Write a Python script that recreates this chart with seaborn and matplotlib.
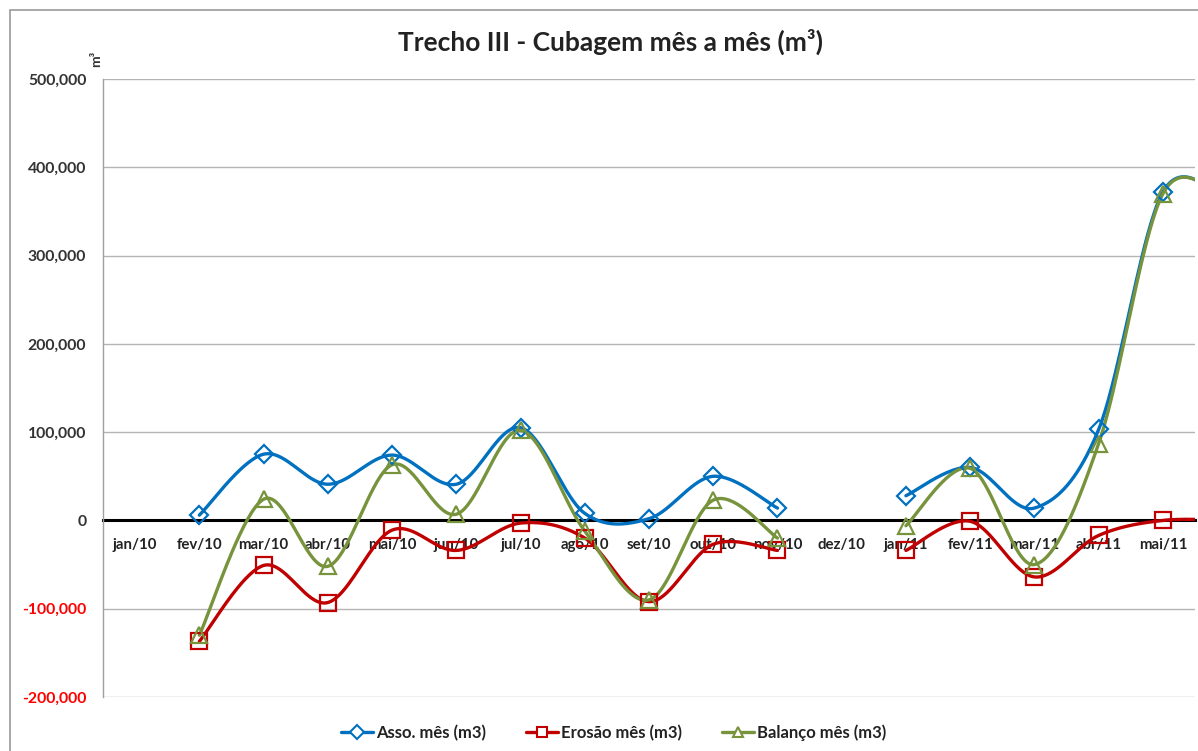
import numpy as np
import pandas as pd
import matplotlib
matplotlib.use("Agg")
import matplotlib.pyplot as plt
from matplotlib.lines import Line2D
from matplotlib.patches import Rectangle
from matplotlib.ticker import FuncFormatter
import seaborn as sns

# ---------------- data ----------------
months = ["jan/10", "fev/10", "mar/10", "abr/10", "mai/10", "jun/10", "jul/10",
          "ago/10", "set/10", "out/10", "nov/10", "dez/10", "jan/11", "fev/11",
          "mar/11", "abr/11", "mai/11", "jun/11"]
asso = [np.nan, 6000, 75000, 41000, 74000, 41000, 105000, 8000, 2000, 50000,
        14000, np.nan, 28000, 60000, 14000, 103000, 372000, 362000]
erosao = [np.nan, -137000, -51000, -93000, -11000, -34000, -3000, -20000, -92000,
          -27000, -34000, np.nan, -34000, -1000, -64000, -17000, 0, 0]
balanco = [np.nan, -130000, 24000, -52000, 63000, 7000, 102000, -12000, -90000,
           23000, -20000, np.nan, -6000, 59000, -50000, 87000, 370000, 362000]
series_names = ["Asso. mês (m3)", "Erosão mês (m3)", "Balanço mês (m3)"]
visible_months = 17  # jan/10 .. mai/11 are visible; jun/11 lies beyond the cropped edge

colors = ["#0070C0", "#C00000", "#77933C"]
markers = ["D", "s", "^"]
msizes = [9, 12, 12]

# ---------------- style ----------------
sns.set_style("white")
plt.rcParams["font.family"] = ["Lato", "DejaVu Sans"]

fig = plt.figure(figsize=(11.98, 7.51), dpi=100)
ax = fig.add_axes([103 / 1198, 1 - 697 / 751, (1195 - 103) / 1198, (697 - 79) / 751])


def excel_smooth(xs, ys, n=40):
    P = np.column_stack([xs, ys]).astype(float)
    m = len(P)
    out = []
    t = np.linspace(0, 1, n)[:, None]
    for i in range(m - 1):
        p0 = P[i - 1] if i > 0 else P[i]
        p1, p2 = P[i], P[i + 1]
        p3 = P[i + 2] if i + 2 < m else P[i + 1]
        c1 = p1 + (p2 - p0) / 6.0
        c2 = p2 - (p3 - p1) / 6.0
        seg = (1 - t) ** 3 * p1 + 3 * (1 - t) ** 2 * t * c1 + 3 * (1 - t) * t ** 2 * c2 + t ** 3 * p2
        out.append(seg if i == 0 else seg[1:])
    return np.vstack(out)


x_idx = np.arange(len(months))
for vals, name, c, mk, ms in zip([asso, erosao, balanco], series_names, colors, markers, msizes):
    v = np.array(vals, dtype=float)
    ok = ~np.isnan(v)
    runs = []
    cur = []
    for i in range(len(v)):
        if ok[i]:
            cur.append(i)
        else:
            if cur:
                runs.append(cur)
            cur = []
    if cur:
        runs.append(cur)
    for r in runs:
        if len(r) < 2:
            continue
        sm = excel_smooth(x_idx[r], v[r])
        df = pd.DataFrame({"x": sm[:, 0], "y": sm[:, 1]})
        sns.lineplot(data=df, x="x", y="y", ax=ax, color=c, lw=2.4, sort=False,
                     estimator=None, legend=False, zorder=3)
    ax.plot(x_idx[ok], v[ok], linestyle="none", marker=mk, ms=ms, mfc="none",
            mec=c, mew=1.6, zorder=4)

# ---------------- axes ----------------
ax.set_xlim(-0.5, visible_months - 0.5)
ax.set_ylim(-200000, 500000)
ax.set_yticks(np.arange(-200000, 500001, 100000))
ax.yaxis.set_major_formatter(FuncFormatter(lambda v, p: f"{int(v):,}"))
ax.grid(axis="y", color="#b4b4b4", lw=1)
ax.grid(axis="x", visible=False)
ax.set_axisbelow(True)
ax.set_xlabel("")
ax.set_ylabel("")

ax.set_xticks(range(visible_months))
ax.set_xticklabels(months[:visible_months])
ax.set_xticks(np.arange(-0.5, visible_months, 1.0), minor=True)
ax.spines["bottom"].set_position(("data", 0))
ax.spines["bottom"].set_color("black")
ax.spines["bottom"].set_linewidth(2.2)
ax.spines["bottom"].set_zorder(2)
ax.spines["top"].set_visible(False)
ax.spines["right"].set_visible(False)
ax.spines["left"].set_color("#a0a0a0")
ax.spines["left"].set_linewidth(1)

ax.tick_params(axis="x", which="major", length=0, pad=13, labelsize=10.8, labelcolor="#222222")
ax.tick_params(axis="x", which="minor", length=5, width=1.5, direction="out", color="black")
ax.tick_params(axis="y", length=5, width=1, color="#a0a0a0", direction="out", pad=7,
               labelsize=11.3)
for lab in ax.get_xticklabels():
    lab.set_fontweight("bold")
for lab, val in zip(ax.get_yticklabels(), ax.get_yticks()):
    lab.set_fontweight("bold")
    lab.set_color("#FF0000" if val < 0 else "#333333")

# ---------------- text ----------------
fig.text(610 / 1198, 1 - 42 / 751, "Trecho III - Cubagem mês a mês (m³)", ha="center",
         va="center", fontsize=19, fontweight="bold", color="#222222")
fig.text(96 / 1198, 1 - 59 / 751, "m³", rotation=90, ha="center", va="center",
         fontsize=10, fontweight="bold", color="#333333")

handles = [Line2D([0], [0], color=c, lw=2.4, marker=mk, ms=7, mfc="white", mec=c, mew=1.5)
           for c, mk in zip(colors, markers)]
leg = fig.legend(handles, series_names, loc="center", bbox_to_anchor=(614 / 1198, 1 - 733 / 751),
                 ncol=3, frameon=False, handlelength=1.9, handletextpad=0.2,
                 columnspacing=2.4, prop={"size": 12, "weight": "bold"})
for t in leg.get_texts():
    t.set_color("#222222")

fig.add_artist(Rectangle((10 / 1198, -0.1), 1.5, 1 - 10 / 751 + 0.1,
                         transform=fig.transFigure, fill=False, ec="#9a9a9a", lw=1.2))

fig.savefig("out.png", dpi=100, facecolor="white")
